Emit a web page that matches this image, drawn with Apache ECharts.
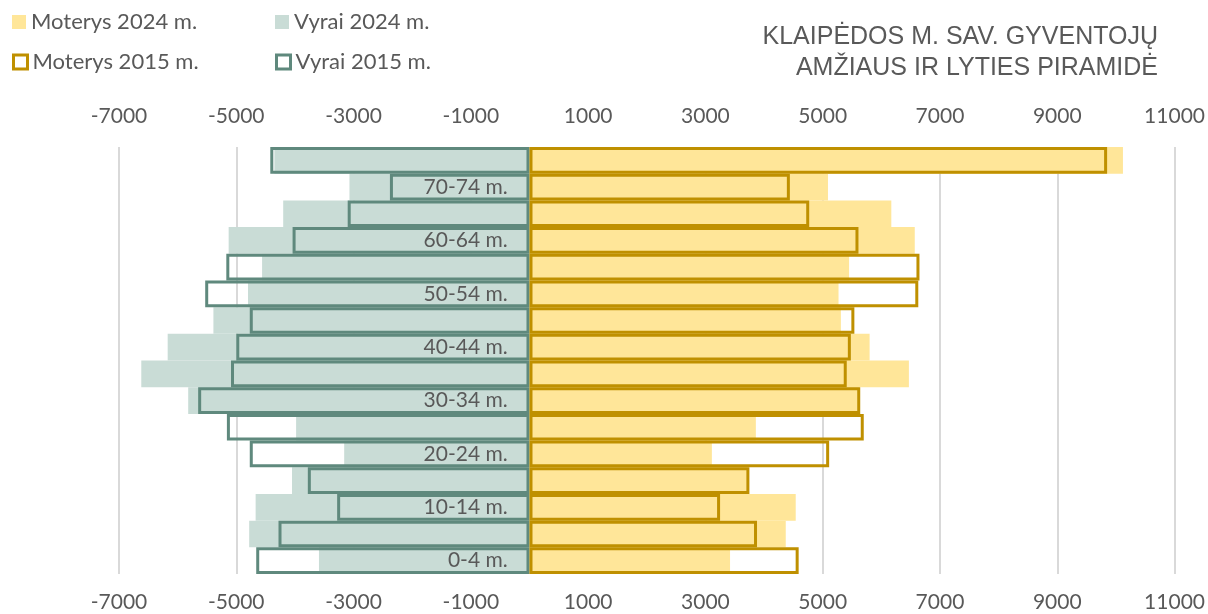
<!DOCTYPE html>
<html>
<head>
<meta charset="utf-8">
<script src="https://cdn.jsdelivr.net/npm/echarts@6/dist/echarts.min.js"></script>
<style>
  html, body { margin: 0; padding: 0; background: #ffffff; }
  #chart { width: 1208px; height: 614px; }
</style>
</head>
<body>
<div id="chart"></div>
<script>
// Age groups, bottom to top
const categories = ['0-4 m.', '5-9 m.', '10-14 m.', '15-19 m.', '20-24 m.', '25-29 m.', '30-34 m.',
  '35-39 m.', '40-44 m.', '45-49 m.', '50-54 m.', '55-59 m.', '60-64 m.', '65-69 m.', '70-74 m.', '75+ m.'];

// Residents per age group
const women2024 = [3420, 4370, 4540, 3720, 3110, 3860, 5620, 6470, 5800, 5310, 5270, 5450, 6570, 6170, 5090, 10120];
const men2024   = [3590, 4780, 4670, 4050, 3160, 3980, 5820, 6620, 6170, 5390, 4800, 4560, 5130, 4200, 3070, 4350];
const women2015 = [4590, 3880, 3250, 3750, 5110, 5700, 5640, 5410, 5480, 5540, 6630, 6650, 5610, 4770, 4440, 9850];
const men2015   = [4660, 4280, 3280, 3780, 4770, 5160, 5650, 5090, 5000, 4770, 5530, 5170, 4040, 3100, 2380, 4420];

// Value axis ticks
const axisMin = -7000;
const axisMax = 11000;
const axisStep = 2000;

const titleLines = ['KLAIPĖDOS M. SAV. GYVENTOJŲ', 'AMŽIAUS IR LYTIES PIRAMIDĖ'];

const FONT = 'Lato';
const TEXT = '#595959';
const C_W24 = '#FFE699';
const C_M24 = '#C9DCD6';
const C_W15 = '#BF9000';
const C_M15 = '#5F897D';

const GRID_LEFT = 119;
const GRID_RIGHT = 33;
const CHART_W = 1208;

const neg = arr => arr.map(v => -v);

function valueAxis(pos, withGrid, margin) {
  return {
    type: 'value',
    position: pos,
    min: axisMin,
    max: axisMax,
    interval: axisStep,
    axisLine: { show: false },
    axisTick: { show: false },
    axisLabel: { fontFamily: FONT, fontSize: 21, color: TEXT, margin: margin, formatter: v => String(v) },
    splitLine: { show: withGrid, lineStyle: { color: '#D9D9D9', width: 2 } }
  };
}

function legendAt(left, top, name, itemStyle) {
  return {
    left: left, top: top, padding: 0,
    icon: 'rect', itemWidth: 14, itemHeight: 14, itemGap: 0,
    textStyle: { fontFamily: FONT, fontSize: 22, color: TEXT },
    data: [{ name: name, itemStyle: itemStyle }],
    selectedMode: false
  };
}

function titleLine(text, top) {
  return {
    type: 'text',
    right: 50,
    top: top,
    style: { text: text, fontFamily: 'Liberation Sans', fontSize: 25, fill: TEXT }
  };
}

const barCommon = {
  type: 'bar',
  barGap: '-100%',
  barCategoryGap: 0,
  emphasis: { disabled: true },
  animation: false
};

// pixel distance from the grid's left edge to the zero value, used to seat the age labels at 0
const plotW = CHART_W - GRID_LEFT - GRID_RIGHT;
const zeroOffset = plotW * (0 - axisMin) / (axisMax - axisMin);

const chart = echarts.init(document.getElementById('chart'), null, { renderer: 'canvas' });
chart.setOption({
  backgroundColor: '#ffffff',
  animation: false,
  graphic: [titleLine(titleLines[0], 25), titleLine(titleLines[1], 56)],
  legend: [
    legendAt(12, 11, 'Moterys 2024 m.', { color: C_W24 }),
    legendAt(275, 11, 'Vyrai 2024 m.', { color: C_M24 }),
    legendAt(12, 51, 'Moterys 2015 m.', { color: '#ffffff', borderColor: C_W15, borderWidth: 3 }),
    legendAt(275, 51, 'Vyrai 2015 m.', { color: '#ffffff', borderColor: C_M15, borderWidth: 3 })
  ],
  grid: { left: GRID_LEFT, right: GRID_RIGHT, top: 147, bottom: 40, containLabel: false },
  xAxis: [valueAxis('bottom', true, 18), valueAxis('top', false, 20)],
  yAxis: {
    type: 'category',
    data: categories,
    z: 10,
    offset: -zeroOffset,
    axisLine: { show: false, onZero: false },
    axisTick: { show: false },
    axisLabel: { interval: 1, margin: 22, fontFamily: FONT, fontSize: 21, color: TEXT }
  },
  series: [
    Object.assign({}, barCommon, { name: 'Moterys 2024 m.', data: women2024, itemStyle: { color: C_W24 } }),
    Object.assign({}, barCommon, { name: 'Vyrai 2024 m.', data: neg(men2024), itemStyle: { color: C_M24 } }),
    Object.assign({}, barCommon, { name: 'Vyrai 2015 m.', data: neg(men2015),
      itemStyle: { color: 'rgba(0,0,0,0)', borderColor: C_M15, borderWidth: 3 } }),
    Object.assign({}, barCommon, { name: 'Moterys 2015 m.', data: women2015,
      itemStyle: { color: 'rgba(0,0,0,0)', borderColor: C_W15, borderWidth: 3 } })
  ]
});
</script>
</body>
</html>
